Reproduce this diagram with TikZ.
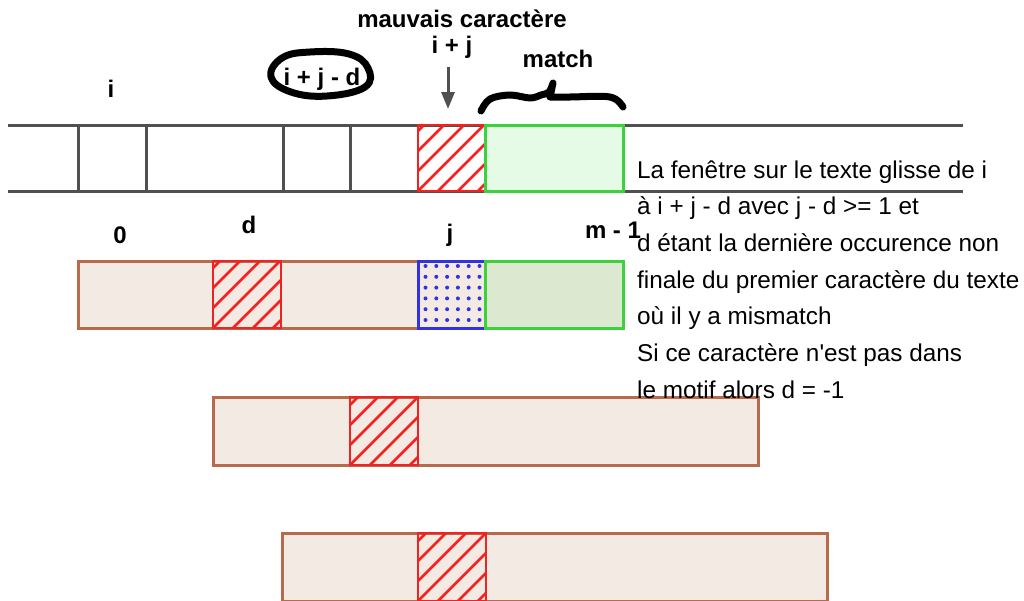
\documentclass[tikz,border=0pt]{standalone}
\usepackage{fontspec}
\setmainfont{Liberation Sans}[Ligatures=TeXOff]
\usetikzlibrary{arrows.meta}
\definecolor{stripc}{RGB}{80,80,80}
\definecolor{redc}{RGB}{240,35,35}
\definecolor{bluec}{RGB}{50,50,225}
\definecolor{gborder}{RGB}{60,210,60}
\definecolor{gtop}{RGB}{229,251,229}
\definecolor{gbot}{RGB}{221,232,208}
\definecolor{beige}{RGB}{244,234,228}
\definecolor{brownc}{RGB}{183,106,76}
\newcommand\hatchcell[3]{%
  \begin{scope}
    \clip (#1,#2) rectangle ++(68,#3);
    \foreach \k in {-4,...,4}
      \draw[hatchline] ({#1+20*\k},{#2+#3}) -- ++(90,-90);
  \end{scope}
  \draw[redborder] (#1,#2) rectangle ++(68,#3);}
\begin{document}
\begin{tikzpicture}[x=1pt,y=-1pt,
  stripline/.style={draw=stripc,line width=3pt},
  hatchline/.style={draw=redc,line width=2.6pt},
  redborder/.style={draw=redc,line width=2.8pt},
  rowbox/.style={fill=beige,draw=brownc,line width=3pt},
  greenbox/.style={draw=gborder,line width=3pt},
  lbl/.style={font=\fontsize{24}{28}\selectfont\bfseries,inner sep=0pt,anchor=base},
  txt/.style={font=\fontsize{24.3}{28}\selectfont,inner sep=0pt,anchor=base west},
  hand/.style={draw=black,line width=7pt,line cap=round,line join=round}]
\useasboundingbox (0,0) rectangle (1024,600);

% text strip
\draw[stripline] (8,125) -- (963,125) (8,191) -- (963,191);
\foreach \x in {78,146,283,350} \draw[stripline] (\x,125) -- (\x,191);
\hatchcell{418}{125}{66}
\draw[greenbox,fill=gtop] (485,125) rectangle (623,191);

% pattern row
\draw[rowbox] (78,261) rectangle (623,328);
\hatchcell{213}{261}{67}
\foreach \i in {0,...,5} \foreach \j in {0,...,5}
  \fill[bluec] ({425.5+10.8*\i},{266+10.8*\j}) circle[radius=2pt];
\draw[draw=bluec,line width=3pt] (418,261) rectangle (485,328);
\draw[greenbox,fill=gbot] (485,261) rectangle (623,328);

% shifted rows
\draw[rowbox] (213,397) rectangle (758,465);
\hatchcell{350}{397}{68}
\draw[rowbox] (282,533) rectangle (827,601);
\hatchcell{418}{533}{68}

% labels
\node[lbl] (mc) at (462,27) {mauvais caractère};
\node[lbl] (ij) at (452,53) {i + j};
\node[lbl] (ma) at (558,67) {match};
\node[lbl] (ijd) at (322,85) {i + j - d};
\node[lbl] (li) at (111,97) {i};
\node[lbl] (l0) at (120,243) {0};
\node[lbl] (ld) at (249,233) {d};
\node[lbl] (lj) at (450,241) {j};
\node[lbl] (lm) at (613,238) {m - 1};

% arrow
\coordinate (arrtop) at (448,67);
\coordinate (arrtip) at (448,109);
\draw[draw=stripc,line width=3pt,-{Triangle[width=13pt,length=17pt]},fill=stripc] (arrtop) -- (arrtip);

% hand-drawn ellipse
\draw[hand] plot[smooth cycle,tension=0.7] coordinates {(271,77) (282,58) (310,52) (349,54) (368,68) (365,87) (327,96) (291,92)};
% hand-drawn brace
\draw[hand] plot[smooth,tension=0.6] coordinates {(481,111) (490,99) (510,95) (530,98) (541,95) (549,92) (553,83)}
  -- (550,97) plot[smooth,tension=0.6] coordinates {(550,97) (570,97) (610,97) (623,107)};

% explanation text
\node[txt] (t1) at (637,178) {La fenêtre sur le texte glisse de i};
\node[txt] (t2) at (637,214.7) {à i + j - d avec j - d >= 1 et};
\node[txt] (t3) at (637,251.4) {d étant la dernière occurence non};
\node[txt] (t4) at (637,288.1) {finale du premier caractère du texte};
\node[txt] (t5) at (637,324.8) {où il y a mismatch};
\node[txt] (t6) at (637,361.5) {Si ce caractère n'est pas dans};
\node[txt] (t7) at (637,398.2) {le motif alors d = -1};
\end{tikzpicture}
\end{document}
